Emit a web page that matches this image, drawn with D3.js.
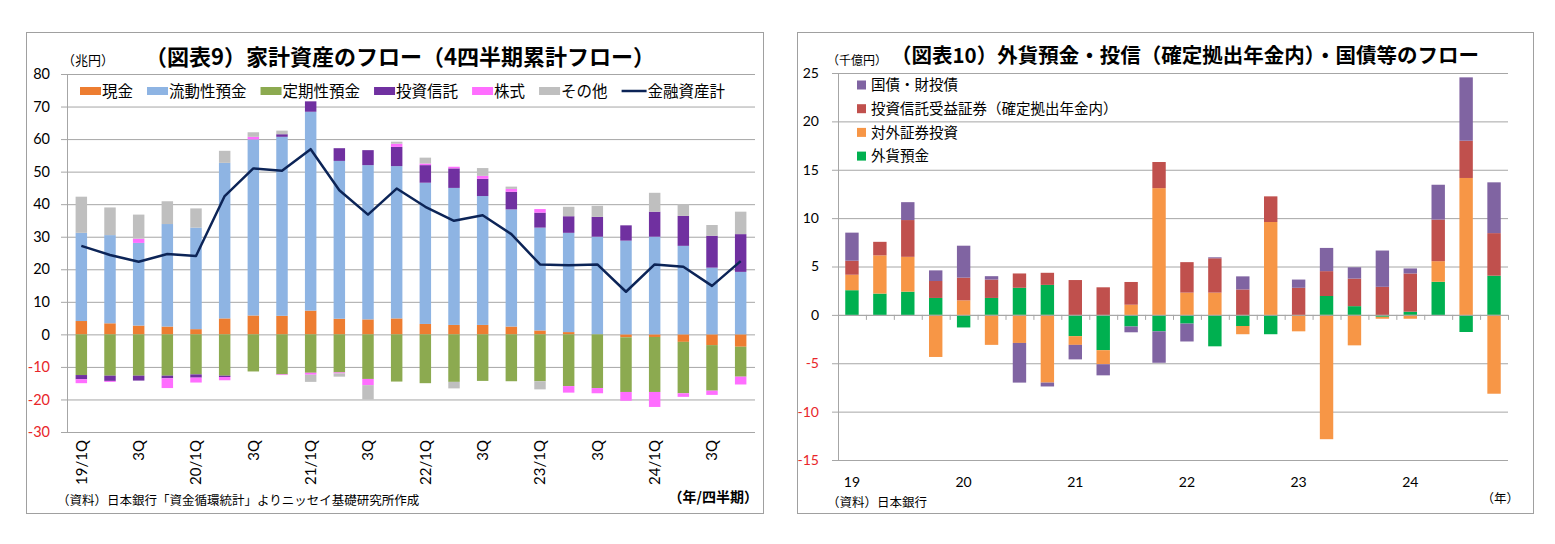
<!DOCTYPE html>
<html>
<head>
<meta charset="utf-8">
<script src="https://cdn.jsdelivr.net/npm/d3@7"></script>
<style>
body { margin: 0; background: #fff; }
text { font-family: "Noto Sans CJK JP", sans-serif; }
.num text, text.num { font-family: Lato, "Noto Sans CJK JP", sans-serif; }
</style>
</head>
<body>
<div class="content"></div>
<script>
// quarters 2019Q1 - 2024Q4
var quarters = ['19/1Q','19/2Q','19/3Q','19/4Q','20/1Q','20/2Q','20/3Q','20/4Q',
  '21/1Q','21/2Q','21/3Q','21/4Q','22/1Q','22/2Q','22/3Q','22/4Q',
  '23/1Q','23/2Q','23/3Q','23/4Q','24/1Q','24/2Q','24/3Q','24/4Q'];
var quarterLabels = ['19/1Q','','3Q','','20/1Q','','3Q','','21/1Q','','3Q','',
  '22/1Q','','3Q','','23/1Q','','3Q','','24/1Q','','3Q',''];
var yearLabels = ['19','','','','20','','','','21','','','','22','','','',
  '23','','','','24','','',''];

// 図表9 (兆円, 4四半期累計)
var cash   = [4.1,3.4,2.7,2.4,1.6,4.9,5.8,5.7,7.3,4.8,4.6,4.9,3.2,2.9,2.9,2.4,1.2,0.7,0.0,-0.9,-0.8,-2.3,-3.3,-3.8];
var liquid = [27.1,27.1,25.4,31.5,31.2,47.8,54.1,55.0,61.1,48.5,47.4,46.8,43.4,42.1,39.6,36.0,31.6,30.5,30.0,28.8,30.0,27.2,20.5,19.2];
var time   = [-12.5,-12.7,-12.7,-12.7,-12.3,-12.7,-11.4,-12.3,-11.8,-11.7,-13.7,-14.5,-15.0,-14.6,-14.3,-14.4,-14.4,-15.9,-16.5,-16.8,-16.9,-15.8,-14.0,-9.2];
var invest = [-1.3,-1.6,-1.5,-0.8,-1.0,-0.4,0.0,0.8,3.2,3.9,4.6,5.9,5.4,6.0,5.3,5.4,4.6,5.1,6.1,4.7,7.7,9.2,9.8,11.6];
var stocks = [-1.2,-0.3,1.3,-3.0,-1.5,-1.0,0.8,-0.2,-0.6,-0.3,-1.9,1.0,0.5,0.5,0.9,0.9,1.1,-2.0,-1.6,-2.7,-4.6,-1.1,-1.3,-2.4];
var other  = [11.1,8.5,7.4,7.0,5.9,3.7,1.4,1.1,-2.2,-1.0,-4.4,0.6,1.8,-2.0,2.4,0.7,-2.5,2.9,3.4,0.0,5.8,3.6,3.3,6.9];
var total  = [27.2,24.4,22.3,24.7,24.1,42.5,51.0,50.3,56.9,44.3,36.8,44.8,39.2,34.9,36.6,30.8,21.5,21.2,21.5,13.1,21.5,20.8,14.9,22.5];
var leftTicks = [-30,-20,-10,0,10,20,30,40,50,60,70,80];

// 図表10 (千億円)
var fxDeposit  = [2.55,2.2,2.4,1.75,-1.3,1.75,2.8,3.1,-2.2,-3.65,-1.2,-1.7,-0.9,-3.25,-1.15,-2.0,0,1.95,0.9,-0.2,0.33,3.42,-1.77,4.05];
var foreignSec = [1.6,3.95,3.6,-4.35,1.5,-3.1,-2.9,-7.0,-0.9,-1.45,1.05,13.1,2.3,2.3,-0.85,9.6,-1.7,-12.85,-3.15,-0.2,-0.4,2.13,14.15,-8.15];
var dcFund     = [1.45,1.4,3.8,1.75,2.35,1.9,1.48,1.25,3.6,2.85,2.35,2.7,3.15,3.55,2.63,2.65,2.8,2.57,2.85,2.9,3.95,4.3,3.85,4.4];
var jgb        = [2.9,0,1.85,1.1,3.3,0.35,-4.1,-0.4,-1.5,-1.15,-0.6,-3.25,-1.85,0.1,1.35,0,0.85,2.4,1.17,3.75,0.52,3.6,6.55,5.25];
var rightTicks = [-15,-10,-5,0,5,10,15,20,25];

var red = '#e8262a', grid = '#a6a6a6';

var svg = d3.select('.content').append('svg')
  .attr('width', 1555)
  .attr('height', 544);

// panel frames
svg.append('rect').attr('x', 26.5).attr('y', 32.5).attr('width', 737).attr('height', 481)
  .attr('fill', '#fff').attr('stroke', '#a0a0a0');
svg.append('rect').attr('x', 797.5).attr('y', 32.5).attr('width', 736).attr('height', 481)
  .attr('fill', '#fff').attr('stroke', '#a0a0a0');

function yAxis(scale, ticks, left, right, pad, fs) {
  var g = svg.append('g')
    .attr('class', 'num')
    .attr('transform', 'translate(' + left + ',0)')
    .call(d3.axisLeft(scale).tickValues(ticks).tickSize(-(right - left)).tickPadding(pad)
      .tickFormat(function(d) { return String(d); }));
  g.select('.domain').remove();
  g.selectAll('line').attr('stroke', grid).attr('x1', -6);
  g.selectAll('text')
    .style('font-size', fs + 'px')
    .attr('fill', function(d) { return d < 0 ? red : '#000'; });
  svg.append('line')
    .attr('x1', left + 0.5).attr('x2', left + 0.5)
    .attr('y1', scale.range()[1]).attr('y2', scale.range()[0])
    .attr('stroke', grid);
}

// ================= 図表9 =================
var xL = d3.scaleBand().domain(quarters).range([67, 755]).paddingInner(0.6).paddingOuter(0.3);
var yL = d3.scaleLinear().domain([-30, 80]).range([432, 74]);

yAxis(yL, leftTicks, 67, 755, 17, 14.5);

var leftKeys = ['cash', 'liquid', 'time', 'invest', 'stocks', 'other'];
var leftNames = ['現金', '流動性預金', '定期性預金', '投資信託', '株式', 'その他'];
var leftColors = ['#ed7d31', '#8eb4e3', '#8caa50', '#7030a0', '#ff6eff', '#bfbfbf'];

var leftRows = quarters.map(function(q, i) {
  return { q: q, cash: cash[i], liquid: liquid[i], time: time[i],
    invest: invest[i], stocks: stocks[i], other: other[i] };
});
var stackL = d3.stack().keys(leftKeys).offset(d3.stackOffsetDiverging)(leftRows);

svg.append('g').selectAll('g')
  .data(stackL)
  .enter().append('g')
  .attr('fill', function(d, i) { return leftColors[i]; })
  .selectAll('rect')
  .data(function(d) { return d; })
  .enter().append('rect')
  .attr('x', function(d) { return xL(d.data.q); })
  .attr('width', xL.bandwidth())
  .attr('y', function(d) { return yL(d[1]); })
  .attr('height', function(d) { return yL(d[0]) - yL(d[1]); });

var totalLine = d3.line()
  .x(function(d) { return xL(d.q) + xL.bandwidth() / 2; })
  .y(function(d) { return yL(d.v); });

svg.append('path')
  .datum(quarters.map(function(q, i) { return { q: q, v: total[i] }; }))
  .attr('d', totalLine)
  .attr('fill', 'none')
  .attr('stroke', '#0c2457')
  .attr('stroke-width', 2.5)
  .attr('stroke-linejoin', 'round');

// category labels, rotated
var axL = svg.append('g')
  .attr('class', 'num')
  .attr('transform', 'translate(0,' + yL(-30) + ')')
  .call(d3.axisBottom(xL).tickSize(0).tickFormat(function(d, i) { return quarterLabels[i]; }));
axL.select('.domain').remove();
axL.selectAll('text')
  .style('font-size', '15px')
  .attr('fill', '#000')
  .attr('transform', 'rotate(-90)')
  .attr('text-anchor', 'end')
  .attr('x', -8).attr('y', 0).attr('dy', '0.36em');

// legend
var legL = svg.append('g').attr('transform', 'translate(80,91)');
var lx = 0;
leftNames.concat(['金融資産計']).forEach(function(name, i) {
  if (i < leftNames.length) {
    legL.append('rect').attr('x', lx).attr('y', -4).attr('width', 21).attr('height', 8)
      .attr('fill', leftColors[i]);
    lx += 22;
  } else {
    legL.append('line').attr('x1', lx).attr('x2', lx + 25).attr('y1', 0).attr('y2', 0)
      .attr('stroke', '#0c2457').attr('stroke-width', 2.5);
    lx += 26;
  }
  var t = legL.append('text').attr('x', lx).attr('y', 0).attr('dy', '0.36em')
    .style('font-size', '15.5px').text(name);
  lx += t.node().getComputedTextLength() + 14;
});

svg.append('text').attr('x', 400).attr('y', 57).attr('text-anchor', 'middle')
  .attr('dy', '0.36em').style('font-size', '22px').style('font-weight', 'bold')
  .text('（図表9）家計資産のフロー（4四半期累計フロー）');
svg.append('text').attr('x', 62).attr('y', 60).attr('dy', '0.36em')
  .style('font-size', '13px').text('（兆円）');
svg.append('text').attr('x', 57).attr('y', 500).attr('dy', '0.36em')
  .style('font-size', '12.5px').text('（資料）日本銀行「資金循環統計」よりニッセイ基礎研究所作成');
svg.append('text').attr('x', 758).attr('y', 497).attr('dy', '0.36em').attr('text-anchor', 'end')
  .style('font-size', '14px').style('font-weight', 'bold').text('（年/四半期）');

// ================= 図表10 =================
var xR = d3.scaleBand().domain(quarters).range([838, 1508]).paddingInner(0.52).paddingOuter(0.26);
var yR = d3.scaleLinear().domain([-15, 25]).range([460, 73]);

yAxis(yR, rightTicks, 838, 1508, 19, 14);

var rightKeys = ['fx', 'foreign', 'dc', 'jgb'];
var rightNames = ['外貨預金', '対外証券投資', '投資信託受益証券（確定拠出年金内）', '国債・財投債'];
var rightColors = ['#00b050', '#f79646', '#c0504d', '#8064a2'];

var rightRows = quarters.map(function(q, i) {
  return { q: q, fx: fxDeposit[i], foreign: foreignSec[i], dc: dcFund[i], jgb: jgb[i] };
});
var stackR = d3.stack().keys(rightKeys).offset(d3.stackOffsetDiverging)(rightRows);

svg.append('g').selectAll('g')
  .data(stackR)
  .enter().append('g')
  .attr('fill', function(d, i) { return rightColors[i]; })
  .selectAll('rect')
  .data(function(d) { return d; })
  .enter().append('rect')
  .attr('x', function(d) { return xR(d.data.q); })
  .attr('width', xR.bandwidth())
  .attr('y', function(d) { return yR(d[1]); })
  .attr('height', function(d) { return yR(d[0]) - yR(d[1]); });

// zero axis with small ticks between categories
svg.append('line').attr('x1', 838).attr('x2', 1508)
  .attr('y1', yR(0) + 0.5).attr('y2', yR(0) + 0.5).attr('stroke', grid);
svg.append('g').selectAll('line')
  .data(d3.range(quarters.length + 1))
  .enter().append('line')
  .attr('x1', function(i) { return xR.range()[0] + i * xR.step() + 0.5; })
  .attr('x2', function(i) { return xR.range()[0] + i * xR.step() + 0.5; })
  .attr('y1', yR(0)).attr('y2', yR(0) + 5)
  .attr('stroke', grid);

var axR = svg.append('g')
  .attr('class', 'num')
  .attr('transform', 'translate(0,482)')
  .call(d3.axisBottom(xR).tickSize(0).tickFormat(function(d, i) { return yearLabels[i]; }));
axR.select('.domain').remove();
axR.selectAll('text').style('font-size', '14px').attr('fill', '#000').attr('y', 0).attr('dy', '0.36em');

// legend (top to bottom: reverse of stack order)
var legR = svg.append('g');
rightNames.slice().reverse().forEach(function(name, i) {
  var c = rightColors[rightColors.length - 1 - i];
  var yy = 85 + i * 23.7;
  legR.append('rect').attr('x', 857).attr('y', yy - 4.5).attr('width', 9).attr('height', 9).attr('fill', c);
  legR.append('text').attr('x', 871).attr('y', yy).attr('dy', '0.36em')
    .style('font-size', '14.5px').text(name);
});

svg.append('text').attr('x', 1185).attr('y', 56).attr('text-anchor', 'middle')
  .attr('dy', '0.36em').style('font-size', '20.5px').style('font-weight', 'bold')
  .text('（図表10）外貨預金・投信（確定拠出年金内）・国債等のフロー');
svg.append('text').attr('x', 827).attr('y', 61).attr('dy', '0.36em')
  .style('font-size', '12px').text('（千億円）');
svg.append('text').attr('x', 827).attr('y', 502).attr('dy', '0.36em')
  .style('font-size', '12.5px').text('（資料）日本銀行');
svg.append('text').attr('x', 1519).attr('y', 498).attr('dy', '0.36em').attr('text-anchor', 'end')
  .style('font-size', '12.5px').text('（年）');
</script>
</body>
</html>
